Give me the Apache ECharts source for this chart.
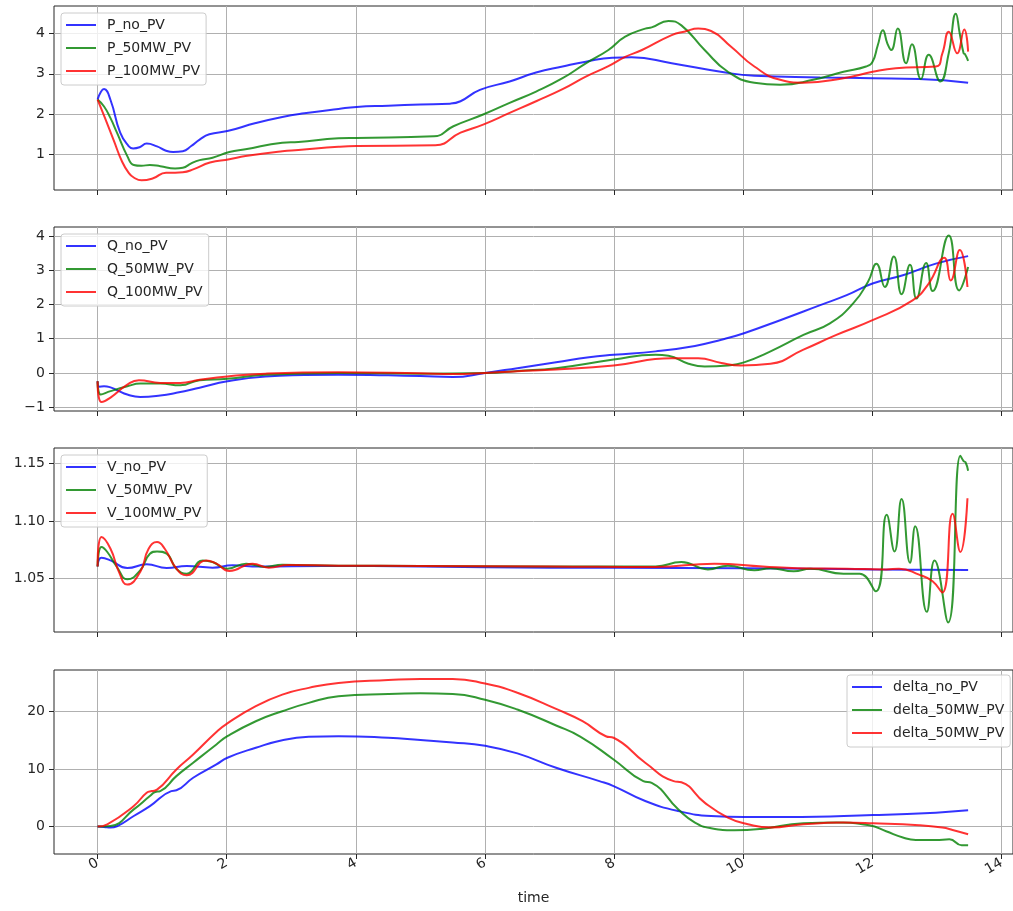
<!DOCTYPE html>
<html>
<head>
<meta charset="utf-8">
<script src="https://cdn.jsdelivr.net/npm/echarts@6/dist/echarts.min.js"></script>
<style>
  html, body { margin: 0; padding: 0; background: #ffffff; }
  #chart { width: 1013px; height: 911px; }
</style>
</head>
<body>
<div id="chart"></div>
<script>
// ---- Active power P ----
const tPno = [0, 0.05, 0.1, 0.2, 0.35, 0.48, 0.55, 0.65, 0.76, 0.92, 1.05, 1.17, 1.32, 1.45, 1.58, 1.73, 2.01, 2.45, 2.86, 3.2, 3.73, 4.01, 4.5, 5.0, 5.46, 5.62, 5.92, 6.38, 6.79, 7.2, 7.56, 7.97, 8.27, 8.89, 9.65, 10.17, 11.19, 12.0, 12.72, 13.48];
const P_no_PV = [2.36, 2.55, 2.62, 2.35, 1.54, 1.21, 1.15, 1.18, 1.27, 1.2, 1.1, 1.06, 1.08, 1.21, 1.37, 1.5, 1.58, 1.78, 1.93, 2.02, 2.13, 2.18, 2.21, 2.24, 2.26, 2.32, 2.6, 2.81, 3.03, 3.18, 3.3, 3.4, 3.41, 3.26, 3.05, 2.95, 2.91, 2.89, 2.87, 2.78];

const tP50 = [0, 0.1, 0.2, 0.3, 0.46, 0.56, 0.68, 0.81, 0.97, 1.2, 1.32, 1.45, 1.58, 1.78, 2.04, 2.29, 2.86, 3.11, 3.73, 4.01, 5.21, 5.51, 5.97, 6.38, 6.79, 7.2, 7.56, 7.91, 8.17, 8.48, 8.58, 8.84, 9.04, 9.4, 9.76, 10.17, 10.57, 11.08, 11.55, 11.9, 12.0, 12.08, 12.16, 12.23, 12.29, 12.39, 12.52, 12.61, 12.75, 12.87, 13.05, 13.18, 13.29, 13.35, 13.41, 13.43, 13.48];
const P_50MW_PV = [2.36, 2.19, 1.9, 1.54, 0.96, 0.74, 0.72, 0.74, 0.71, 0.65, 0.67, 0.78, 0.86, 0.92, 1.06, 1.13, 1.29, 1.31, 1.40, 1.41, 1.45, 1.7, 1.99, 2.28, 2.56, 2.89, 3.26, 3.59, 3.92, 4.12, 4.15, 4.31, 4.2, 3.59, 3.05, 2.78, 2.73, 2.85, 3.05, 3.18, 3.30, 3.7, 4.08, 3.75, 3.59, 4.12, 3.26, 3.73, 2.87, 3.47, 2.81, 3.51, 4.49, 4.0, 3.51, 3.49, 3.32];

const tP100 = [0, 0.12, 0.25, 0.38, 0.48, 0.56, 0.68, 0.86, 1.06, 1.2, 1.32, 1.48, 1.74, 2.04, 2.29, 2.86, 3.11, 3.73, 4.01, 5.23, 5.62, 5.97, 6.38, 6.79, 7.2, 7.56, 7.91, 8.17, 8.43, 8.89, 9.1, 9.3, 9.5, 9.81, 10.17, 10.57, 10.93, 11.55, 12.0, 12.36, 12.98, 13.08, 13.18, 13.31, 13.42, 13.48];
const P_100MW_PV = [2.36, 1.88, 1.35, 0.82, 0.55, 0.43, 0.36, 0.41, 0.55, 0.55, 0.56, 0.63, 0.8, 0.88, 0.96, 1.08, 1.11, 1.19, 1.21, 1.23, 1.54, 1.74, 2.03, 2.32, 2.62, 2.93, 3.19, 3.42, 3.59, 3.96, 4.05, 4.12, 4.06, 3.67, 3.18, 2.85, 2.78, 2.89, 3.05, 3.14, 3.18, 3.5, 4.04, 3.51, 4.1, 3.55];

// ---- Reactive power Q ----
const tQno = [0, 0.03, 0.1, 0.2, 0.3, 0.46, 0.66, 0.97, 1.22, 1.58, 2.01, 2.6, 3.2, 3.73, 4.5, 5.0, 5.5, 6.0, 6.5, 7.1, 7.61, 7.99, 8.64, 9.25, 9.66, 10.01, 10.57, 11.19, 11.6, 12.0, 12.47, 12.98, 13.48];
const Q_no_PV = [-0.24, -0.4, -0.39, -0.42, -0.5, -0.63, -0.7, -0.66, -0.58, -0.43, -0.24, -0.1, -0.06, -0.05, -0.07, -0.09, -0.12, 0.0, 0.14, 0.31, 0.46, 0.53, 0.63, 0.79, 0.97, 1.16, 1.54, 1.98, 2.27, 2.61, 2.85, 3.19, 3.41];

const tQ50 = [0, 0.05, 0.2, 0.46, 0.66, 0.97, 1.28, 1.58, 2.01, 2.6, 3.73, 5.0, 6.0, 6.5, 7.1, 7.99, 8.64, 8.84, 9.15, 9.4, 9.76, 10.01, 10.42, 10.93, 11.34, 11.7, 11.93, 12.06, 12.19, 12.33, 12.45, 12.58, 12.68, 12.83, 12.93, 13.18, 13.34, 13.48];
const Q_50MW_PV = [-0.24, -0.63, -0.53, -0.39, -0.31, -0.31, -0.36, -0.21, -0.17, -0.05, 0.0, -0.02, 0.0, 0.06, 0.14, 0.39, 0.53, 0.5, 0.27, 0.19, 0.22, 0.31, 0.63, 1.11, 1.45, 2.03, 2.66, 3.19, 2.51, 3.4, 2.3, 3.16, 2.17, 3.21, 2.39, 4.01, 2.41, 3.09];

const tQ100 = [0, 0.06, 0.2, 0.46, 0.64, 0.97, 1.28, 1.58, 2.01, 2.6, 3.73, 5.0, 5.5, 6.0, 6.5, 7.1, 7.99, 8.89, 9.3, 9.66, 9.96, 10.42, 10.93, 11.44, 12.0, 12.62, 12.87, 13.11, 13.21, 13.35, 13.47];
const Q_100MW_PV = [-0.24, -0.85, -0.72, -0.34, -0.21, -0.29, -0.29, -0.2, -0.1, -0.02, 0.02, -0.01, -0.03, 0.0, 0.05, 0.1, 0.22, 0.43, 0.43, 0.29, 0.22, 0.27, 0.68, 1.11, 1.54, 2.12, 2.61, 3.36, 2.7, 3.59, 2.51];

// ---- Voltage V ----
const tVno = [0, 0.06, 0.2, 0.46, 0.76, 1.07, 1.38, 1.78, 2.09, 2.5, 3.5, 5, 7, 9, 11, 12, 13.48];
const V_no_PV = [1.0606, 1.068, 1.0658, 1.0592, 1.0624, 1.0592, 1.0609, 1.0595, 1.0615, 1.0605, 1.061, 1.0605, 1.0595, 1.0592, 1.0585, 1.058, 1.0575];

const tV50 = [0, 0.06, 0.15, 0.3, 0.46, 0.66, 0.81, 0.92, 1.07, 1.22, 1.38, 1.63, 1.78, 2.01, 2.3, 2.6, 2.86, 3.73, 5, 7, 8.64, 9.04, 9.45, 9.76, 10.17, 10.42, 10.78, 11.04, 11.55, 11.8, 12.05, 12.22, 12.34, 12.45, 12.58, 12.66, 12.84, 12.96, 13.17, 13.36, 13.41, 13.44, 13.48];
const V_50MW_PV = [1.0606, 1.0774, 1.0731, 1.0601, 1.0494, 1.0572, 1.0716, 1.0736, 1.0716, 1.0586, 1.0543, 1.0658, 1.0644, 1.0586, 1.063, 1.0601, 1.0621, 1.0612, 1.061, 1.0606, 1.0606, 1.0644, 1.058, 1.0612, 1.0572, 1.059, 1.0563, 1.0586, 1.0543, 1.0543, 1.039, 1.1053, 1.0736, 1.1191, 1.0638, 1.0955, 1.0212, 1.0658, 1.012, 1.1566, 1.152, 1.1509, 1.1436];

const tV100 = [0, 0.06, 0.2, 0.33, 0.46, 0.66, 0.79, 0.92, 1.04, 1.22, 1.38, 1.68, 1.84, 2.04, 2.4, 2.65, 2.96, 3.73, 5, 7, 8.64, 9.55, 10.3, 10.84, 11.6, 12.21, 12.41, 12.72, 12.93, 13.08, 13.24, 13.36, 13.47];
const V_100MW_PV = [1.0606, 1.086, 1.0759, 1.0558, 1.0448, 1.0558, 1.0759, 1.0817, 1.0759, 1.0586, 1.0529, 1.0658, 1.063, 1.0566, 1.063, 1.0595, 1.0618, 1.0612, 1.061, 1.0606, 1.06, 1.063, 1.0606, 1.059, 1.0586, 1.058, 1.0586, 1.0535, 1.0477, 1.0379, 1.1062, 1.0731, 1.1197];

// ---- Rotor angle delta ----
const tDno = [0, 0.1, 0.2, 0.3, 0.56, 0.81, 1.14, 1.22, 1.48, 1.84, 2.01, 2.45, 2.86, 3.27, 3.73, 4.5, 5.0, 5.5, 6.0, 6.5, 7.1, 7.77, 7.99, 8.48, 8.99, 9.5, 10.01, 10.67, 12.01, 12.98, 13.48];
const delta_no_PV = [0, -0.05, -0.17, 0.06, 1.84, 3.56, 6.16, 6.3, 8.47, 10.78, 11.94, 13.67, 14.98, 15.57, 15.67, 15.4, 15.0, 14.6, 14.0, 12.7, 10.2, 7.89, 7.03, 4.43, 2.7, 1.84, 1.67, 1.67, 2.0, 2.42, 2.82];

const tD50 = [0, 0.2, 0.56, 0.81, 0.89, 0.97, 1.22, 1.48, 1.84, 2.01, 2.45, 2.86, 3.27, 3.73, 4.5, 5.0, 5.5, 6.0, 6.5, 7.1, 7.48, 7.99, 8.45, 8.58, 8.99, 9.25, 9.5, 9.86, 10.27, 10.93, 11.44, 11.95, 12.21, 12.47, 12.67, 12.98, 13.19, 13.38, 13.48];
const delta_50MW_PV = [0, 0.11, 2.99, 5.3, 6.0, 6.16, 8.75, 11.07, 14.24, 15.67, 18.27, 20.0, 21.45, 22.6, 23.0, 23.1, 23.0, 22.0, 20.3, 17.53, 15.57, 11.64, 7.89, 7.6, 2.99, 0.69, -0.29, -0.64, -0.4, 0.57, 0.69, 0.23, -0.81, -1.9, -2.32, -2.32, -2.2, -3.24, -3.24];

const tD100 = [0, 0.15, 0.56, 0.76, 0.84, 0.92, 1.22, 1.48, 1.84, 2.01, 2.45, 2.86, 3.27, 3.73, 4.5, 5.0, 5.5, 6.0, 6.5, 7.1, 7.51, 7.87, 7.99, 8.48, 8.92, 9.04, 9.4, 9.76, 10.07, 10.42, 10.93, 11.55, 12.01, 12.72, 13.08, 13.24, 13.48];
const delta_100MW_PV = [0, 0.4, 3.56, 5.88, 6.16, 6.4, 9.91, 12.5, 16.4, 17.9, 20.87, 22.89, 24.05, 24.91, 25.4, 25.6, 25.6, 24.8, 23.2, 20.4, 18.27, 15.67, 15.4, 11.07, 7.89, 7.7, 4.15, 1.56, 0.4, -0.17, 0.4, 0.69, 0.57, 0.23, -0.17, -0.58, -1.33];

// ---- Axis ticks and legend labels ----
const timeTicks = [0, 2, 4, 6, 8, 10, 12, 14];
const pTicks = [1, 2, 3, 4];
const qTicks = [-1, 0, 1, 2, 3, 4];
const vTicks = [1.05, 1.10, 1.15];
const deltaTicks = [0, 10, 20];
const pLabels = ['P_no_PV', 'P_50MW_PV', 'P_100MW_PV'];
const qLabels = ['Q_no_PV', 'Q_50MW_PV', 'Q_100MW_PV'];
const vLabels = ['V_no_PV', 'V_50MW_PV', 'V_100MW_PV'];
const deltaLabels = ['delta_no_PV', 'delta_50MW_PV', 'delta_50MW_PV'];

const FONT = 'DejaVu Sans';
const TEXT = '#262626';
const COLORS = ['rgba(0,0,255,0.8)', 'rgba(0,128,0,0.8)', 'rgba(255,0,0,0.8)'];

const zip = (t, v) => t.map((x, i) => [x, v[i]]);

const panels = [
  { top: 6,   yMin: 0.12,   yMax: 4.68,   ticks: pTicks, fmt: v => String(v),
    names: ['P_no_PV', 'P_50MW_PV', 'P_100MW_PV'], labels: pLabels,
    data: [zip(tPno, P_no_PV), zip(tP50, P_50MW_PV), zip(tP100, P_100MW_PV)],
    legend: { left: 61, top: 13 } },
  { top: 227, yMin: -1.11,  yMax: 4.26,   ticks: qTicks, fmt: v => (v < 0 ? '\u2212' + Math.abs(v) : String(v)),
    names: ['Q_no_PV', 'Q_50MW_PV', 'Q_100MW_PV'], labels: qLabels,
    data: [zip(tQno, Q_no_PV), zip(tQ50, Q_50MW_PV), zip(tQ100, Q_100MW_PV)],
    legend: { left: 61, top: 234 } },
  { top: 448, yMin: 1.0037, yMax: 1.1633, ticks: vTicks, fmt: v => v.toFixed(2),
    names: ['V_no_PV', 'V_50MW_PV', 'V_100MW_PV'], labels: vLabels,
    data: [zip(tVno, V_no_PV), zip(tV50, V_50MW_PV), zip(tV100, V_100MW_PV)],
    legend: { left: 61, top: 455 } },
  { top: 670, yMin: -4.75,  yMax: 27.15,  ticks: deltaTicks, fmt: v => String(v),
    names: ['delta_no_PV', 'delta_50MW_PV', 'delta_100MW_PV'], labels: deltaLabels,
    data: [zip(tDno, delta_no_PV), zip(tD50, delta_50MW_PV), zip(tD100, delta_100MW_PV)],
    legend: { left: 847, top: 675 } }
];

const grid = [], xAxis = [], yAxis = [], series = [], legend = [];

panels.forEach((p, i) => {
  const last = i === panels.length - 1;
  grid.push({
    left: 54, top: p.top, width: 967, height: 184,
    show: true, borderColor: '#262626', borderWidth: 1, backgroundColor: 'transparent'
  });
  xAxis.push({
    type: 'value', gridIndex: i, min: -0.675, max: 14.175, position: 'bottom',
    name: last ? 'time' : '', nameLocation: 'middle', nameGap: 37,
    nameTextStyle: { fontFamily: FONT, fontSize: 14, color: TEXT },
    axisLine: { show: false, onZero: false },
    axisTick: { show: true, length: 5, lineStyle: { color: '#262626' }, customValues: timeTicks },
    axisLabel: { show: last, rotate: 30, margin: 8, fontFamily: FONT, fontSize: 14, color: TEXT,
                 customValues: timeTicks, formatter: v => String(v) },
    splitLine: { show: true, lineStyle: { color: '#b0b0b0', width: 1 } }
  });
  yAxis.push({
    type: 'value', gridIndex: i, min: p.yMin, max: p.yMax, position: 'left',
    axisLine: { show: false, onZero: false },
    axisTick: { show: true, length: 5, lineStyle: { color: '#262626' }, customValues: p.ticks },
    axisLabel: { margin: 9, fontFamily: FONT, fontSize: 14, color: TEXT,
                 customValues: p.ticks, formatter: p.fmt },
    splitLine: { show: true, lineStyle: { color: '#b0b0b0', width: 1 } }
  });
  p.names.forEach((n, k) => {
    series.push({
      type: 'line', name: n, xAxisIndex: i, yAxisIndex: i,
      data: p.data[k], showSymbol: false, symbol: 'none',
      smooth: 0.5,
      color: COLORS[k],
      lineStyle: { width: 2, color: COLORS[k] },
      animation: false, z: 2
    });
  });
  legend.push({
    orient: 'vertical', left: p.legend.left, top: p.legend.top,
    data: p.names, icon: 'rect', itemWidth: 30, itemHeight: 2, itemGap: 7,
    padding: [4, 6, 6, 5],
    backgroundColor: 'rgba(255,255,255,0.8)', borderColor: '#cccccc', borderWidth: 1, borderRadius: 3,
    selectedMode: false,
    formatter: name => p.labels[p.names.indexOf(name)],
    textStyle: { fontFamily: FONT, fontSize: 14, color: TEXT, lineHeight: 16, padding: [0, 0, 0, 6] }
  });
});

const chart = echarts.init(document.getElementById('chart'), null, { renderer: 'canvas' });
chart.setOption({ animation: false, backgroundColor: '#ffffff', grid, xAxis, yAxis, series, legend });
</script>
</body>
</html>
